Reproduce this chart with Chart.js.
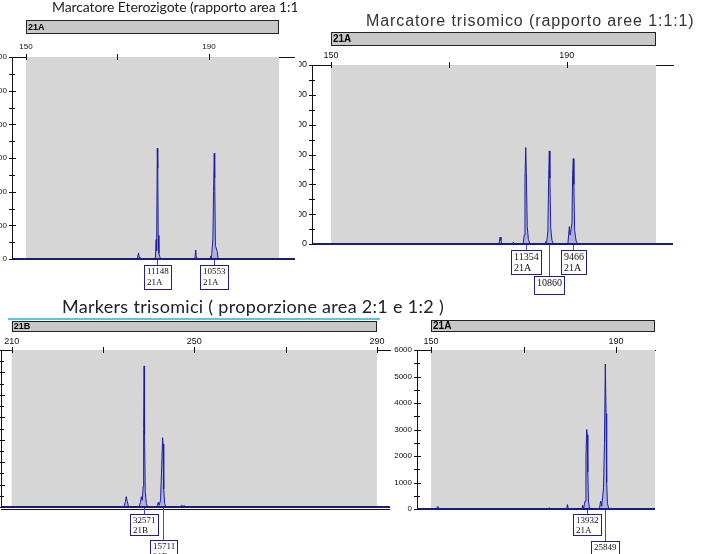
<!DOCTYPE html>
<html>
<head>
<meta charset="utf-8">
<script src="https://cdn.jsdelivr.net/npm/chart.js@4.4.1/dist/chart.umd.min.js"></script>
<style>
  html, body { margin: 0; padding: 0; background: #fff; }
  #page { position: relative; width: 708px; height: 554px; overflow: hidden; background: #fff; }
  canvas { position: absolute; }
  .title { position: absolute; white-space: nowrap; color: #222; line-height: normal; }
</style>
</head>
<body>
<div id="page">
  <canvas id="c1" width="325" height="300" style="left:-30px;top:0px"></canvas>
  <canvas id="c2" width="375" height="300" style="left:299px;top:0px"></canvas>
  <canvas id="c3" width="412" height="254" style="left:-20px;top:300px"></canvas>
  <canvas id="c4" width="276" height="254" style="left:380px;top:300px"></canvas>

  <div class="title" style="left:52px;top:-2px;width:245px;overflow:hidden;font:14px Lato;letter-spacing:-0.1px">Marcatore Eterozigote (rapporto area 1:1)</div>
  <div class="title" style="left:366px;top:12px;font:16px 'Liberation Sans';letter-spacing:0.9px;color:#333">Marcatore trisomico (rapporto aree 1:1:1)</div>
  <div class="title" style="left:62px;top:295px;font:18px Lato;letter-spacing:0.3px">Markers trisomici ( proporzione area 2:1 e 1:2 )</div>
  <div style="position:absolute;left:8px;top:318px;width:372px;height:2px;background:#5ec6d6"></div>
</div>

<script>
// ---- data ----
// panel 1: heterozygous marker, size (bp) vs signal
const p1Size   = [146.9, 174.3, 174.6, 174.75, 174.9, 178.0, 178.3, 178.45, 178.55, 178.7, 178.8, 178.9, 179.05, 179.3, 179.6, 182.5, 182.6, 182.7, 186.9, 187.1, 187.2, 187.4, 190.2, 190.4, 190.55, 190.85, 191.0, 191.15, 191.25, 191.4, 191.8, 192.0, 208.8];
const p1Signal = [0, 0, 18, 6, 0, 0, 6, 58, 25, 329, 270, 70, 18, 4, 0, 0, 3, 0, 0, 27, 10, 0, 0, 9, 4, 60, 200, 314, 240, 40, 22, 0, 0];
const p1Peaks   = [178.7, 191.15];
const p1Areas   = ['11148', '10553'];
const p1Alleles = ['21A', '21A'];
const p1Rows    = [0, 0];
const p1XTicks  = [150, 170, 190];
const p1XLabels = [150, 190];
const p1YTicks  = [0, 50, 100, 150, 200, 250, 300, 350, 400, 450, 500, 550, 600];
const p1YLabels = [0, 100, 200, 300, 400, 500, 600];

// panel 2: trisomic marker 1:1:1
const p2Size   = [146.8, 178.5, 178.7, 178.85, 179.0, 180.8, 180.95, 181.1, 182.6, 182.8, 182.92, 183.05, 183.15, 183.3, 183.5, 183.8, 186.3, 186.45, 186.6, 186.8, 186.95, 187.05, 187.15, 187.3, 187.5, 187.8, 190.2, 190.45, 190.6, 190.9, 191.0, 191.12, 191.22, 191.35, 191.6, 191.9, 208.0];
const p2Signal = [0, 0, 23, 12, 0, 0, 6, 0, 0, 30, 220, 323, 240, 60, 15, 0, 0, 8, 4, 40, 230, 312, 220, 50, 12, 0, 0, 58, 30, 70, 230, 286, 200, 45, 10, 0, 0];
const p2Peaks   = [183.05, 187.05, 191.12];
const p2Areas   = ['11354', '10860', '9466'];
const p2Alleles = ['21A', '', '21A'];
const p2Rows    = [0, 1, 0];
const p2XTicks  = [150, 170, 190];
const p2XLabels = [150, 190];
const p2YTicks  = [0, 50, 100, 150, 200, 250, 300, 350, 400, 450, 500, 550, 600];
const p2YLabels = [0, 100, 200, 300, 400, 500, 600];

// panel 3: trisomic marker 2:1
const p3Size   = [207.7, 231.1, 231.3, 231.5, 234.6, 234.9, 235.1, 235.3, 235.6, 237.9, 238.2, 238.4, 238.6, 238.8, 238.9, 239.0, 239.1, 239.25, 239.5, 239.8, 241.8, 242.1, 242.3, 242.6, 242.9, 243.05, 243.15, 243.3, 243.5, 243.8, 246.9, 247.2, 247.5, 247.8, 248.1, 292.9];
const p3Signal = [0, 0, 45, 0, 0, 250, 460, 250, 0, 0, 200, 460, 300, 905, 3500, 6290, 3200, 700, 150, 0, 0, 210, 80, 300, 2100, 3090, 2800, 800, 150, 0, 0, 80, 30, 60, 0, 0];
const p3Peaks   = [238.98, 243.1];
const p3Areas   = ['32571', '15711'];
const p3Alleles = ['21B', '21B'];
const p3Rows    = [0, 1];
const p3XTicks  = [210, 230, 250, 270, 290];
const p3XLabels = [210, 250, 290];
const p3YTicks  = [0, 500, 1000, 1500, 2000, 2500, 3000, 3500, 4000, 4500, 5000, 5500, 6000, 6500, 7000];
const p3YLabels = [0, 1000, 2000, 3000, 4000, 5000, 6000, 7000];

// panel 4: trisomic marker 1:2
const p4Size   = [147.0, 149.6, 149.75, 149.9, 151.2, 151.45, 151.7, 175.4, 175.6, 175.8, 179.3, 179.5, 179.7, 182.6, 182.8, 183.0, 183.3, 183.5, 183.66, 183.78, 183.9, 184.05, 184.3, 186.4, 186.69, 186.9, 187.3, 187.5, 187.69, 187.85, 187.98, 188.15, 188.4, 188.7, 198.4];
const p4Signal = [0, 0, 30, 0, 0, 100, 0, 0, 50, 0, 0, 165, 0, 0, 140, 20, 300, 1970, 3000, 2800, 1400, 300, 0, 0, 300, 100, 800, 2470, 5470, 3600, 1000, 200, 40, 0, 0];
const p4Peaks   = [183.66, 187.69];
const p4Areas   = ['13932', '25849'];
const p4Alleles = ['21A', '21A'];
const p4Rows    = [0, 1];
const p4XTicks  = [150, 170, 190];
const p4XLabels = [150, 190];
const p4YTicks  = [0, 500, 1000, 1500, 2000, 2500, 3000, 3500, 4000, 4500, 5000, 5500, 6000];
const p4YLabels = [0, 1000, 2000, 3000, 4000, 5000, 6000];

const TRACE = '#1e1ea0';
const TRACE_FILL = 'rgba(150,150,230,0.55)';
const GRAY = '#d6d6d6';
const AXIS = '#111';

// draws the gray run window, the dye bar, axis tick marks, baseline and the peak boxes
function electroPlugin(st) {
  return {
    id: 'electro',
    beforeDatasetsDraw(chart) {
      const { ctx, chartArea: a, scales: { x } } = chart;
      const gx0 = x.getPixelForValue(st.grayFrom);
      const gx1 = Math.min(x.getPixelForValue(st.grayTo), a.right);
      ctx.save();
      ctx.fillStyle = GRAY;
      ctx.fillRect(gx0, a.top, gx1 - gx0, a.bottom - a.top);
      ctx.restore();
    },
    afterDatasetsDraw(chart) {
      const { ctx, chartArea: a } = chart;
      ctx.save();
      ctx.strokeStyle = '#1c1c7c';
      ctx.lineWidth = 2;
      ctx.beginPath();
      ctx.moveTo(a.left, a.bottom);
      ctx.lineTo(a.right, a.bottom);
      ctx.stroke();
      if (st.doubleBase) {
        ctx.strokeStyle = '#111';
        ctx.lineWidth = 1;
        ctx.beginPath();
        ctx.moveTo(a.left, a.bottom + 2.5);
        ctx.lineTo(a.right, a.bottom + 2.5);
        ctx.stroke();
      }
      ctx.restore();
    },
    afterDraw(chart) {
      const { ctx, chartArea: a, scales: { x, y } } = chart;
      ctx.save();
      // tick marks crossing the axes
      ctx.strokeStyle = AXIS;
      ctx.lineWidth = 1;
      x.ticks.forEach(t => {
        const px = Math.round(x.getPixelForValue(t.value)) + 0.5;
        ctx.beginPath();
        ctx.moveTo(px, a.top - 3);
        ctx.lineTo(px, a.top + 3);
        ctx.stroke();
      });
      y.ticks.forEach(t => {
        const py = Math.round(y.getPixelForValue(t.value)) + 0.5;
        const major = st.yLabels.includes(t.value);
        ctx.beginPath();
        ctx.moveTo(a.left - 3, py);
        ctx.lineTo(a.left + (major ? 4 : 3), py);
        ctx.stroke();
      });

      // dye bar
      const gx0 = x.getPixelForValue(st.grayFrom);
      const gx1 = Math.min(x.getPixelForValue(st.grayTo), a.right);
      const by = a.top - st.barTop;
      ctx.fillStyle = '#c8c8c8';
      ctx.fillRect(gx0, by, gx1 - gx0, st.barH);
      ctx.strokeStyle = '#222';
      ctx.strokeRect(Math.round(gx0) + 0.5, by + 0.5, Math.round(gx1 - gx0) - 1, st.barH - 1);
      ctx.fillStyle = '#000';
      ctx.font = 'bold ' + st.barFont + 'px "Liberation Sans"';
      ctx.textBaseline = 'middle';
      ctx.textAlign = 'left';
      ctx.fillText(st.dye, gx0 + 2, by + st.barH / 2 + 0.5);

      // peak boxes
      ctx.font = st.boxFont + 'px "Liberation Serif"';
      ctx.textBaseline = 'top';
      st.peaks.forEach((p, i) => {
        const px = Math.round(x.getPixelForValue(p)) + 0.5;
        const lines = [st.areas[i], st.alleles[i]].filter(s => s);
        const w = Math.round(Math.max(...lines.map(s => ctx.measureText(s).width)) + 6);
        const h = lines.length > 1 ? st.boxH : st.boxH1;
        const top = a.bottom + (st.rows[i] ? st.row1 : st.row0);
        const left = Math.round(px - w / 2);
        ctx.strokeStyle = '#4848b8';
        ctx.beginPath();
        ctx.moveTo(px, a.bottom + 1);
        ctx.lineTo(px, top);
        ctx.stroke();
        ctx.fillStyle = '#fff';
        ctx.fillRect(left, top, w, h);
        ctx.strokeStyle = '#20208a';
        ctx.strokeRect(left + 0.5, top + 0.5, w - 1, h - 1);
        ctx.fillStyle = '#111';
        lines.forEach((s, k) => ctx.fillText(s, left + 3, top + 2 + k * st.lineGap));
      });
      ctx.restore();
    }
  };
}

function buildPanel(id, st) {
  return new Chart(document.getElementById(id), {
    type: 'line',
    data: {
      datasets: [{
        data: st.size.map((v, i) => ({ x: v, y: st.signal[i] })),
        borderColor: TRACE,
        borderWidth: 1,
        backgroundColor: TRACE_FILL,
        fill: 'origin',
        pointRadius: 0,
        tension: 0,
        clip: { left: 0, top: 0, right: 0, bottom: 4 }
      }]
    },
    options: {
      responsive: false,
      animation: false,
      events: [],
      layout: { padding: { left: 0, top: 0, right: st.padRight, bottom: st.padBottom } },
      plugins: { legend: { display: false }, tooltip: { enabled: false } },
      scales: {
        x: {
          type: 'linear',
          position: 'top',
          min: st.xMin,
          max: st.xMax,
          afterBuildTicks: s => { s.ticks = st.xTicks.map(v => ({ value: v })); },
          afterFit: s => { s.height = st.axisTop; },
          grid: { display: false, drawTicks: false },
          border: { display: true, color: AXIS, width: 1 },
          ticks: {
            autoSkip: false, maxRotation: 0, padding: st.xPad, color: '#111',
            font: { family: 'Liberation Sans', size: st.xFont },
            callback: v => st.xLabels.includes(v) ? String(v) : ''
          }
        },
        y: {
          type: 'linear',
          min: 0,
          max: st.yTicks[st.yTicks.length - 1],
          afterBuildTicks: s => { s.ticks = st.yTicks.map(v => ({ value: v })); },
          afterFit: s => { s.width = st.axisLeft; },
          grid: { display: false, drawTicks: false },
          border: { display: true, color: AXIS, width: 1 },
          ticks: {
            autoSkip: false, padding: 5, color: '#111',
            font: { family: st.yFamily, size: st.yFont },
            callback: v => st.yLabels.includes(v) ? String(v) : ''
          }
        }
      }
    },
    plugins: [electroPlugin(st)]
  });
}

buildPanel('c1', {
  size: p1Size, signal: p1Signal, peaks: p1Peaks, areas: p1Areas, alleles: p1Alleles, rows: p1Rows,
  xTicks: p1XTicks, xLabels: p1XLabels, yTicks: p1YTicks, yLabels: p1YLabels,
  xMin: 146.94, xMax: 208.8, grayFrom: 150, grayTo: 205.3, dye: '21A',
  axisLeft: 42, axisTop: 57, padRight: 0, padBottom: 41,
  xFont: 8, xPad: 5, yFont: 8, yFamily: 'Liberation Sans',
  barTop: 37, barH: 14, barFont: 9,
  boxFont: 9, boxH: 25, boxH1: 19, lineGap: 11, row0: 6, row1: 32
});

buildPanel('c2', {
  size: p2Size, signal: p2Signal, peaks: p2Peaks, areas: p2Areas, alleles: p2Alleles, rows: p2Rows,
  xTicks: p2XTicks, xLabels: p2XLabels, yTicks: p2YTicks, yLabels: p2YLabels,
  xMin: 146.78, xMax: 208.04, grayFrom: 150, grayTo: 205.16, dye: '21A',
  axisLeft: 13, axisTop: 65, padRight: 1, padBottom: 56,
  xFont: 9, xPad: 4, yFont: 9, yFamily: 'Liberation Sans',
  barTop: 33, barH: 14, barFont: 10,
  boxFont: 10, boxH: 25, boxH1: 19, lineGap: 11, row0: 6, row1: 32
});

buildPanel('c3', {
  size: p3Size, signal: p3Signal, peaks: p3Peaks, areas: p3Areas, alleles: p3Alleles, rows: p3Rows,
  xTicks: p3XTicks, xLabels: p3XLabels, yTicks: p3YTicks, yLabels: p3YLabels,
  xMin: 207.66, xMax: 292.85, grayFrom: 210, grayTo: 290, dye: '21B', doubleBase: true,
  axisLeft: 21, axisTop: 50, padRight: 2, padBottom: 47,
  xFont: 9, xPad: 3, yFont: 8, yFamily: 'Liberation Sans',
  barTop: 29, barH: 11, barFont: 9,
  boxFont: 9, boxH: 22, boxH1: 19, lineGap: 10, row0: 7, row1: 33
});

buildPanel('c4', {
  size: p4Size, signal: p4Signal, peaks: p4Peaks, areas: p4Areas, alleles: p4Alleles, rows: p4Rows,
  xTicks: p4XTicks, xLabels: p4XLabels, yTicks: p4YTicks, yLabels: p4YLabels,
  xMin: 146.97, xMax: 198.43, grayFrom: 150, grayTo: 198.43, dye: '21A',
  axisLeft: 37, axisTop: 50, padRight: 1, padBottom: 45,
  xFont: 9, xPad: 3, yFont: 8, yFamily: '"Liberation Sans Narrow", "Liberation Sans"',
  barTop: 30, barH: 12, barFont: 10,
  boxFont: 9, boxH: 22, boxH1: 19, lineGap: 10, row0: 5, row1: 32
});
</script>
</body>
</html>
